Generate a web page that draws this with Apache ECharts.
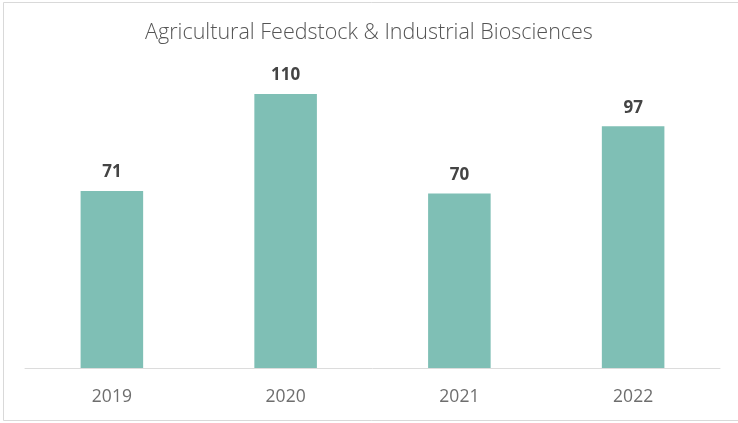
<!DOCTYPE html>
<html>
<head>
<meta charset="utf-8">
<script src="https://cdn.jsdelivr.net/npm/echarts@6/dist/echarts.min.js"></script>
<style>
  html, body { margin: 0; padding: 0; background: #fff; }
  #main { width: 738px; height: 423px; }
</style>
</head>
<body>
<div id="main"></div>
<script>
let years = ['2019', '2020', '2021', '2022'];
let values = [71, 110, 70, 97];
let chartTitle = 'Agricultural Feedstock & Industrial Biosciences';

let myChart = echarts.init(document.getElementById('main'));

myChart.setOption({
    backgroundColor: '#fff',
    animation: false,
    title: {
        text: chartTitle,
        left: 'center',
        top: 17,
        textStyle: {
            fontFamily: 'Open Sans',
            fontWeight: 300,
            fontSize: 21.5,
            color: '#555'
        }
    },
    graphic: [{
        type: 'rect',
        shape: {x: 3.5, y: 2.5, width: 760, height: 418},
        style: {fill: 'none', stroke: '#d9d9d9', lineWidth: 1},
        silent: true
    }],
    grid: {left: 25, right: 18, top: 69, bottom: 55},
    xAxis: {
        type: 'category',
        data: years,
        axisTick: {show: false},
        axisLine: {lineStyle: {color: '#dcdcdc'}},
        axisLabel: {
            color: '#6e6e6e',
            fontFamily: 'Open Sans',
            fontSize: 17.5,
            margin: 20
        }
    },
    yAxis: {
        type: 'value',
        min: 0,
        max: 120,
        show: false
    },
    series: [{
        type: 'bar',
        data: values,
        barWidth: '36%',
        silent: true,
        itemStyle: {color: '#7fbfb5'},
        label: {
            show: true,
            position: 'top',
            distance: 10,
            color: '#444',
            fontFamily: 'Open Sans',
            fontWeight: 'bold',
            fontSize: 17
        }
    }]
});
</script>
</body>
</html>
